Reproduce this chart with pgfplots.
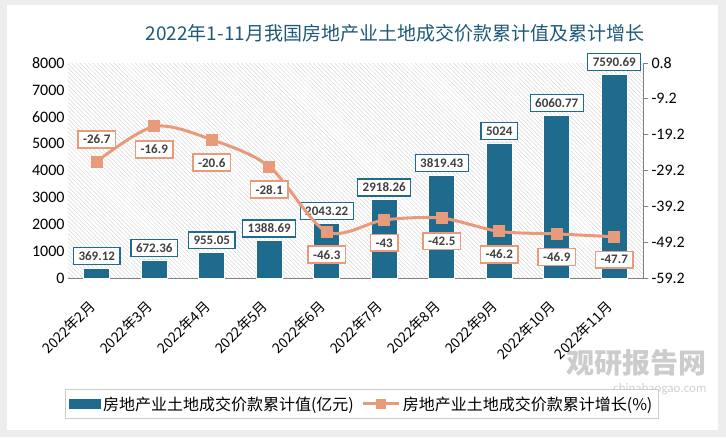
\documentclass[border=0pt]{standalone}
\usepackage{pgfplots}
\pgfplotsset{compat=1.18}
\usepackage{pgfplotstable}
\usepackage{fontspec}
\setmainfont{Carlito}
\newfontfamily\cjk{Noto Sans CJK SC}
\usetikzlibrary{patterns.meta}
\definecolor{barc}{HTML}{1F6B8E}
\definecolor{linec}{HTML}{E89B7B}
\definecolor{titc}{HTML}{1F5A78}
\definecolor{lblc}{HTML}{404040}

\pgfplotstableread{
x y label
0 369.12 369.12
1 672.36 672.36
2 955.05 955.05
3 1388.69 1388.69
4 2043.22 2043.22
5 2918.26 2918.26
6 3819.43 3819.43
7 5024 5024
8 6060.77 6060.77
9 7590.69 7590.69
}\bartable

\pgfplotstableread{
x y dy
0 -26.7 22
1 -16.9 -23
2 -20.6 -23
3 -28.1 -23
4 -46.3 -23
5 -43 -23
6 -42.5 -23
7 -46.2 -23
8 -46.9 -23
9 -47.7 -23
}\linetable

\begin{document}
\begin{tikzpicture}[x=1pt,y=1pt]
\fill[gray!14] (0,0) rectangle (726,437);
\fill[white] (7,7) rectangle (718,432);

\node[text=titc, font=\cjk\fontsize{19}{19}\selectfont] at (395,404) {2022年1-11月我国房地产业土地成交价款累计值及累计增长};

% watermark
\node[text=gray!40, font=\cjk\bfseries\fontsize{28}{28}\selectfont, anchor=east] at (710,74) {观研报告网};
\node[text=gray!35, font=\fontsize{13}{13}\selectfont, anchor=east] at (710,48) {chinabaogao.com};

\begin{axis}[
  at={(68pt,159pt)}, anchor=south west,
  scale only axis, width=575pt, height=215pt,
  xmin=-0.5, xmax=9.5, ymin=0, ymax=8000,
  axis background/.style={pattern={Lines[angle=-45,distance=3pt,line width=0.5pt]}, pattern color=gray!30},
  axis x line*=bottom, axis y line*=left,
  x axis line style={gray, line width=0.8pt, -},
  y axis line style={draw=none},
  ytick={0,1000,...,8000},
  ytick style={draw=none}, xtick style={draw=none},
  xtick={0,...,9},
  xticklabels={2022年2月,2022年3月,2022年4月,2022年5月,2022年6月,2022年7月,2022年8月,2022年9月,2022年10月,2022年11月},
  x tick label style={rotate=45, anchor=north east, font=\cjk\fontsize{14}{14}\selectfont, xshift=-15pt, yshift=-2pt},
  y tick label style={font=\fontsize{16}{16}\selectfont},
  /pgf/number format/assume math mode=true,
  /pgf/number format/set thousands separator={},
  ybar, bar width=26pt,
  nodes near coords, point meta=explicit symbolic,
  every node near coord/.append style={draw=barc, fill=white, line width=1.3pt, font=\bfseries\fontsize{13}{13}\selectfont, text=lblc, inner xsep=5pt, inner ysep=4pt, anchor=south, yshift=3pt},
]
\addplot[fill=barc, draw=white, line width=0.8pt] table[x=x, y=y, meta=label] {\bartable};
\end{axis}

\begin{axis}[
  at={(68pt,159pt)}, anchor=south west,
  scale only axis, width=575pt, height=215pt,
  xmin=-0.5, xmax=9.5, ymin=-59.2, ymax=0.8,
  axis x line=none, axis y line*=right,
  y axis line style={gray, line width=0.8pt, -},
  ytick={-59.2,-49.2,-39.2,-29.2,-19.2,-9.2,0.8},
  yticklabels={-59.2,-49.2,-39.2,-29.2,-19.2,-9.2,0.8},
  tick align=outside, major tick length=5pt, ytick style={gray, line width=0.8pt},
  y tick label style={font=\fontsize{16}{16}\selectfont},
  legend style={at={(0.511,-0.586)}, anchor=center, draw=gray!40, line width=0.8pt,
    font=\cjk\fontsize{16}{16}\selectfont, legend columns=2,
    /tikz/every even column/.append style={column sep=6pt}, inner xsep=4pt, inner ysep=5pt},
  legend image code/.code={},
]
\addlegendimage{legend image code/.code={\fill[barc] (-4pt,-4.5pt) rectangle (27pt,4.5pt);}}
\addlegendentry{房地产业土地成交价款累计值(亿元)}
\addlegendimage{legend image code/.code={\draw[linec, line width=3pt] (-6pt,0pt) -- (30pt,0pt); \fill[linec] (12pt,0pt) +(-4.5pt,-4.5pt) rectangle +(4.5pt,4.5pt);}}
\addlegendentry{房地产业土地成交价款累计增长(\%)}

\addplot[linec, line width=3pt, smooth, mark=square*, mark size=4.5pt, mark options={fill=linec, draw=linec},
  nodes near coords, point meta=y,
  visualization depends on={\thisrow{dy} \as \dy},
  every node near coord/.append style={anchor=center, yshift=\dy, draw=linec, fill=white, line width=1.6pt, font=\bfseries\fontsize{13}{13}\selectfont, text=lblc, inner xsep=5pt, inner ysep=4pt},
  nodes near coords={\pgfmathprintnumber[assume math mode=true]{\pgfplotspointmeta}},
] table[x=x, y=y] {\linetable};
\end{axis}
\end{tikzpicture}
\end{document}
